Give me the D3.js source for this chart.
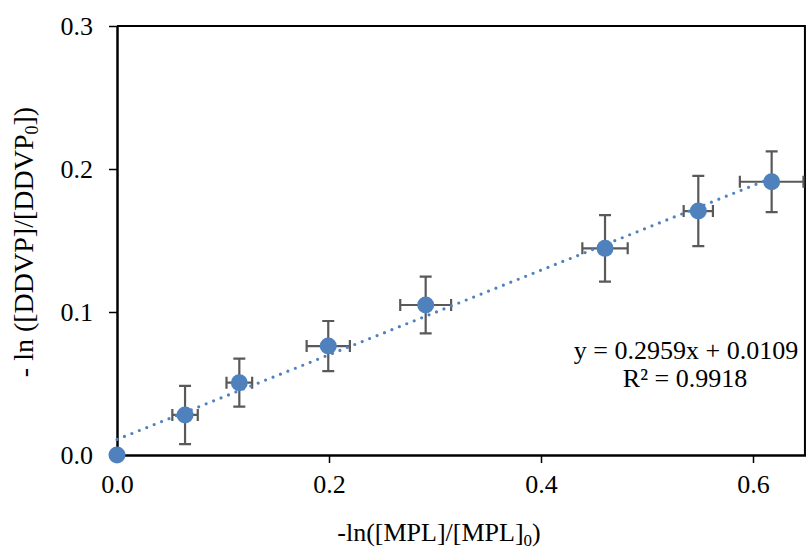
<!DOCTYPE html>
<html><head><meta charset="utf-8">
<script src="https://cdn.jsdelivr.net/npm/d3@7"></script>
<style>body{margin:0;background:#fff}svg{display:block}</style>
</head><body><svg id="c" width="806" height="549"></svg>
<script>
const xValues = [0, 0.0642, 0.1154, 0.1993, 0.2912, 0.4604, 0.5484, 0.6176];
const yValues = [0, 0.0280, 0.0506, 0.0762, 0.1049, 0.1445, 0.1706, 0.1911];
const xErrors = [0, 0.0120, 0.0121, 0.0204, 0.0240, 0.0214, 0.0138, 0.0300];
const yErrors = [0, 0.0204, 0.0168, 0.0175, 0.0198, 0.0233, 0.0246, 0.0212];
const xTicks = [0, 0.2, 0.4, 0.6];
const yTicks = [0, 0.1, 0.2, 0.3];
const slope = 0.2959, intercept = 0.0109;
const eqText = "y = 0.2959x + 0.0109";
const r2Text = "R² = 0.9918";

const svg = d3.select("#c");
const font = "'Liberation Serif','Times New Roman',serif";
const fs = 26;
const x = d3.scaleLinear().domain([0, 0.65]).range([117, 806]);
const y = d3.scaleLinear().domain([0, 0.3]).range([455, 26]);
const blue = "#4f81bd", grey = "#595959";

// plot border (top/right)
svg.append("path").attr("d", `M${x(0)},${y(0.3)}H${x(0.649)}V${y(0)}`)
  .attr("fill","none").attr("stroke","#000").attr("stroke-width",2);

const gx = svg.append("g").attr("transform",`translate(0,${y(0)})`)
  .call(d3.axisBottom(x).tickValues(xTicks).tickFormat(d3.format(".1f")).tickSize(8).tickSizeOuter(0));
const gy = svg.append("g").attr("transform",`translate(${x(0)},0)`)
  .call(d3.axisLeft(y).tickValues(yTicks).tickFormat(d3.format(".1f")).tickSize(8).tickSizeOuter(0));
[gx, gy].forEach(g => {
  g.select(".domain").attr("stroke","#000").attr("stroke-width",2.5);
  g.selectAll(".tick line").attr("stroke","#000").attr("stroke-width",1.5);
  g.selectAll(".tick text").attr("font-family",font).attr("font-size",fs).attr("fill","#000");
});
gx.selectAll(".tick text").attr("y",38).attr("dy",0);
gy.selectAll(".tick text").attr("x",-24).attr("dy",8);

const pts = xValues.map((v,i)=>({x:v,y:yValues[i],ex:xErrors[i],ey:yErrors[i]}));
const eb = svg.append("g").attr("stroke",grey).attr("stroke-width",2.2).attr("fill","none");
const cap = 6;
pts.filter(p=>p.ex>0||p.ey>0).forEach(p=>{
  const cx=x(p.x), cy=y(p.y);
  const y1=y(p.y+p.ey), y2=y(p.y-p.ey), x1=x(p.x-p.ex), x2=x(p.x+p.ex);
  eb.append("path").attr("d",
    `M${cx},${y1}V${y2}M${cx-cap},${y1}H${cx+cap}M${cx-cap},${y2}H${cx+cap}`+
    `M${x1},${cy}H${x2}M${x1},${cy-cap}V${cy+cap}M${x2},${cy-cap}V${cy+cap}`);
});

svg.append("g").selectAll("circle").data(pts).join("circle")
  .attr("cx",d=>x(d.x)).attr("cy",d=>y(d.y)).attr("r",8.5).attr("fill",blue);

const xmax = d3.max(xValues);
svg.append("line").attr("x1",x(0)).attr("y1",y(intercept))
  .attr("x2",x(xmax)).attr("y2",y(slope*xmax+intercept))
  .attr("stroke",blue).attr("stroke-width",3.2).attr("stroke-linecap","round")
  .attr("stroke-dasharray","0,8");

svg.append("text").attr("x",686).attr("y",359).attr("text-anchor","middle")
  .attr("font-family",font).attr("font-size",fs).text(eqText);
svg.append("text").attr("x",685).attr("y",387).attr("text-anchor","middle")
  .attr("font-family",font).attr("font-size",fs).text(r2Text);

// axis titles
const xt = svg.append("text").attr("x",439).attr("y",541).attr("text-anchor","middle")
  .attr("font-family",font).attr("font-size",fs);
xt.append("tspan").text("-ln([MPL]/[MPL]");
xt.append("tspan").attr("dy",5).attr("font-size",17).text("0");
xt.append("tspan").attr("dy",-5).text(")");

const yt = svg.append("text").attr("transform","translate(33,242) rotate(-90)").attr("text-anchor","middle")
  .attr("font-family",font).attr("font-size",28);
yt.append("tspan").text("- ln ([DDVP]/[DDVP");
yt.append("tspan").attr("dy",5).attr("font-size",18).text("0");
yt.append("tspan").attr("dy",-5).text("])");
</script></body></html>
